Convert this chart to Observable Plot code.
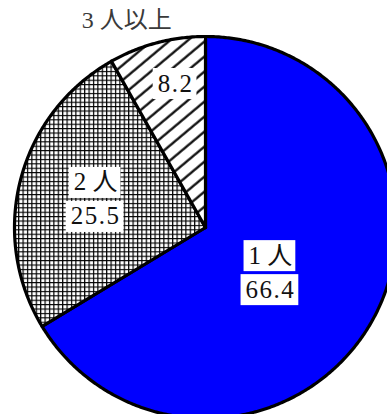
<!DOCTYPE html>
<html><head><meta charset="utf-8">
<script src="https://cdn.jsdelivr.net/npm/d3@7"></script>
<script src="https://cdn.jsdelivr.net/npm/@observablehq/plot@0.6"></script>
<style>body{margin:0;background:#fff;overflow:hidden}</style>
</head><body><div id="chart"></div>
<script>
// ---- data ----
const categories = ["1人", "2人", "3人以上"];
const percents = [66.4, 25.5, 8.2];
const valueLabels = ["66.4", "25.5", "8.2"];

// ---- layout / style ----
const W = 387, H = 414, cx = 205, cy = 227, R = 191;
const fills = ["#0000ff", "url(#gridPat)", "url(#hatchPat)"];
const labelRadius = [0.414, 0.594, 0.77];
const labelTurn = [5.4, -0.35, 3];
const outerRadius = 1.16, outerTurn = -6.1;
const FONT = "'Liberation Serif','Noto Sans CJK JP',serif";
const FS = 25;

const total = d3.sum(percents);
let acc = 0;
const slices = percents.map((v, i) => {
  const a0 = acc / total * 360; acc += v; const a1 = acc / total * 360;
  return {i, a0, a1, mid: (a0 + a1) / 2};
});
const polar = (r, deg) => ({x: r * Math.sin(deg * Math.PI / 180), y: r * Math.cos(deg * Math.PI / 180)});
const shapes = slices.map(s => {
  const n = Math.max(2, Math.ceil((s.a1 - s.a0) / 0.5));
  const pts = [{x: 0, y: 0}];
  for (let k = 0; k <= n; k++) pts.push(polar(1, s.a0 + (s.a1 - s.a0) * k / n));
  pts.push({x: 0, y: 0});
  return pts;
});
const spaced = c => c.replace(/^(\d)/, "$1 ");
const inner = slices.slice(0, 2).map(s => ({...polar(labelRadius[s.i], s.mid + labelTurn[s.i]), cat: spaced(categories[s.i]), val: valueLabels[s.i]}));
const small = slices.slice(2).map(s => ({...polar(labelRadius[s.i], s.mid + labelTurn[s.i]), val: valueLabels[s.i]}));
const outer = slices.slice(2).map(s => ({...polar(outerRadius, s.mid + outerTurn), cat: spaced(categories[s.i])}));

const tag = cls => (index, scales, values, dims, ctx, next) => { const g = next(index, scales, values, dims, ctx); g.setAttribute("class", cls); return g; };

const plot = Plot.plot({
  width: W, height: H, margin: 0,
  x: {domain: [-cx / R, (W - cx) / R], axis: null},
  y: {domain: [-(H - cy) / R, cy / R], axis: null},
  style: {background: "white", fontFamily: FONT},
  marks: [
    ...shapes.map((pts, i) => Plot.line(pts, {x: "x", y: "y", fill: fills[i], stroke: "black", strokeWidth: 3.2, strokeLinejoin: "round"})),
    Plot.text(inner, {x: "x", y: "y", text: "cat", dy: -17, fontSize: FS, fill: "#111", render: tag("boxed")}),
    Plot.text(inner, {x: "x", y: "y", text: "val", dy: 17, fontSize: FS, fill: "#111", render: tag("boxed num")}),
    Plot.text(small, {x: "x", y: "y", text: "val", fontSize: FS, fill: "#111", render: tag("boxed num")}),
    Plot.text(outer, {x: "x", y: "y", text: "cat", fontSize: 24, fill: "#3a3a3a"})
  ]
});
document.getElementById("chart").appendChild(plot);

// patterns
const svg = d3.select(plot);
const defs = svg.insert("defs", ":first-child");
const gs = 4.4;
const gp = defs.append("pattern").attr("id", "gridPat").attr("patternUnits", "userSpaceOnUse").attr("width", gs).attr("height", gs);
gp.append("rect").attr("width", gs).attr("height", gs).attr("fill", "white");
gp.append("path").attr("d", `M0.6,0V${gs}M0,0.6H${gs}`).attr("stroke", "#000").attr("stroke-width", 1.2);
const hs = 11.5;
const hp = defs.append("pattern").attr("id", "hatchPat").attr("patternUnits", "userSpaceOnUse").attr("width", hs).attr("height", hs).attr("patternTransform", "rotate(50)");
hp.append("rect").attr("width", hs).attr("height", hs).attr("fill", "white");
hp.append("path").attr("d", `M1.5,0V${hs}`).attr("stroke", "black").attr("stroke-width", 2.2);

svg.selectAll("g.num").style("letter-spacing", "1.5px");

// white boxes behind boxed labels
svg.selectAll("g.boxed text").each(function() {
  const t = this, b = t.getBBox();
  d3.select(t.parentNode).insert("rect", () => t)
    .attr("x", b.x - 5).attr("y", -15.5).attr("width", b.width + 8).attr("height", 31)
    .attr("transform", t.getAttribute("transform"))
    .attr("fill", "white");
});
</script></body></html>
